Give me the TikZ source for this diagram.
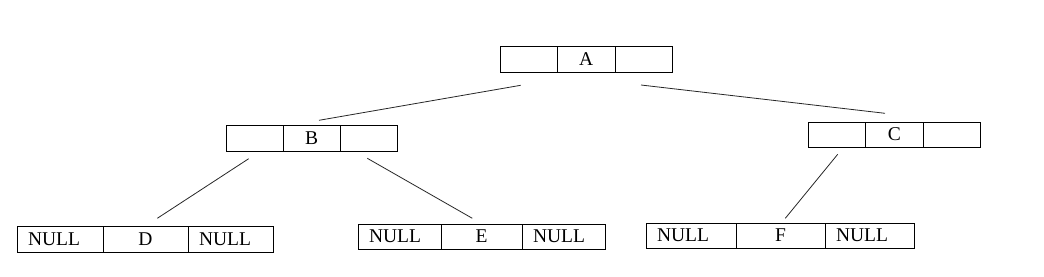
\documentclass[tikz,border=0pt]{standalone}
\usepackage{fontspec}
\setmainfont{Liberation Serif}
\begin{document}
\begin{tikzpicture}[x=1pt,y=-1pt,
  cell/.style={draw=black, line width=0.9pt, inner sep=0pt, outer sep=0pt, anchor=north west,
    font=\fontsize{19.5}{22}\selectfont},
  nullcell/.style={cell, inner xsep=11pt, align=left},
  link/.style={draw=black!85, line width=0.8pt}]
\useasboundingbox (0,0) rectangle (1044,276);
% A
\node[cell, minimum width=57.5pt, minimum height=26pt] (aL) at (500,46) {};
\node[cell, minimum width=57.5pt, minimum height=26pt] (aM) at (557.5,46) {A};
\node[cell, minimum width=57pt, minimum height=26pt] (aR) at (615,46) {};
% B
\node[cell, minimum width=57pt, minimum height=26pt] (bL) at (226,125) {};
\node[cell, minimum width=57pt, minimum height=26pt] (bM) at (283,125) {B};
\node[cell, minimum width=57pt, minimum height=26pt] (bR) at (340,125) {};
% C
\node[cell, minimum width=57.5pt, minimum height=25pt] (cL) at (808,122) {};
\node[cell, minimum width=57.5pt, minimum height=25pt] (cM) at (865.5,122) {C};
\node[cell, minimum width=57.5pt, minimum height=25pt] (cR) at (923,122) {};
% D
\node[nullcell, text width=64pt, minimum height=26pt] (dL) at (17,226) {NULL};
\node[cell, minimum width=85pt, minimum height=26pt] (dM) at (103,226) {D};
\node[nullcell, text width=63pt, minimum height=26pt] (dR) at (188,226) {NULL};
% E
\node[nullcell, text width=61pt, minimum height=25pt] (eL) at (358,224) {NULL};
\node[cell, minimum width=81pt, minimum height=25pt] (eM) at (441,224) {E};
\node[nullcell, text width=61pt, minimum height=25pt] (eR) at (522,224) {NULL};
% F
\node[nullcell, text width=68pt, minimum height=25pt] (fL) at (646,223) {NULL};
\node[cell, minimum width=89pt, minimum height=25pt] (fM) at (736,223) {F};
\node[nullcell, text width=67pt, minimum height=25pt] (fR) at (825,223) {NULL};
% connector end points
\coordinate (a1) at (520.7,85.3);
\coordinate (b0) at (319,120.3);
\coordinate (a2) at (641,85);
\coordinate (c0) at (885,113.3);
\coordinate (b1) at (248.7,158.7);
\coordinate (d0) at (157.3,218.3);
\coordinate (b2) at (367.3,158.3);
\coordinate (e0) at (472.3,218.3);
\coordinate (c1) at (837.7,154.3);
\coordinate (f0) at (785.3,218.3);
\draw[link] (a1) -- (b0);
\draw[link] (a2) -- (c0);
\draw[link] (b1) -- (d0);
\draw[link] (b2) -- (e0);
\draw[link] (c1) -- (f0);
\end{tikzpicture}
\end{document}
